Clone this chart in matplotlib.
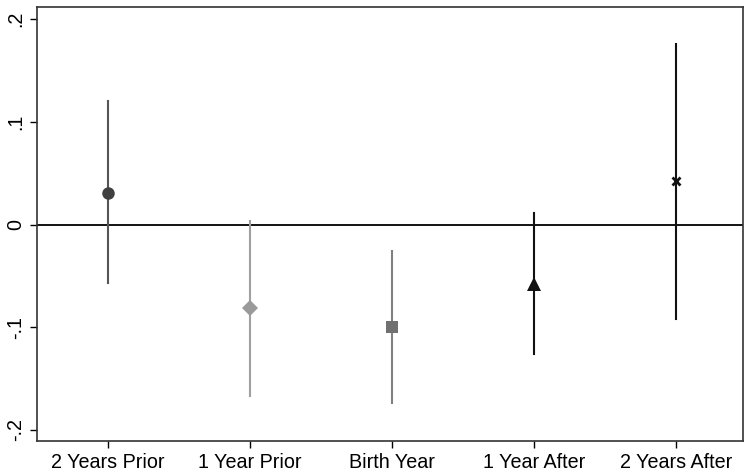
import matplotlib
matplotlib.use("Agg")
import matplotlib.pyplot as plt

plt.rcParams["font.family"] = ["Liberation Sans", "DejaVu Sans"]

labels = ["2 Years Prior", "1 Year Prior", "Birth Year", "1 Year After", "2 Years After"]
coef = [0.031, -0.081, -0.100, -0.058, 0.042]
lower = [-0.057, -0.167, -0.174, -0.126, -0.092]
upper = [0.120, 0.003, -0.026, 0.011, 0.176]

markers = ["o", "D", "s", "^", "x"]
colors = ["#404040", "#9a9a9a", "#707070", "#111111", "#111111"]
line_colors = ["#555555", "#a0a0a0", "#808080", "#111111", "#111111"]
sizes = [9, 8, 8, 10, 6]

fig = plt.figure(figsize=(7.5, 4.76), dpi=100)
ax = fig.add_axes([37 / 750, 35 / 476, 706 / 750, 434 / 476])

ax.axhline(0, color="black", lw=1.3, zorder=1)
for i in range(len(labels)):
    x = i + 1
    ax.plot([x, x], [lower[i], upper[i]], color=line_colors[i], lw=1.5, zorder=2)
    ax.plot(x, coef[i], marker=markers[i], color=colors[i], markersize=sizes[i],
            markeredgewidth=2 if markers[i] == "x" else 0, linestyle="none", zorder=3)

ax.set_xlim(0.5, 5.47)
ax.set_ylim(-0.211, 0.212)
ax.set_xticks(range(1, 6))
ax.set_xticklabels(labels, fontsize=14.2)
ax.set_yticks([-0.2, -0.1, 0, 0.1, 0.2])
ax.set_yticklabels(["-.2", "-.1", "0", ".1", ".2"], fontsize=14.2, rotation=90, va="center")
ax.tick_params(direction="out", length=5, width=1, colors="black")
for s in ax.spines.values():
    s.set_linewidth(1.2)
    s.set_color("#333333")

fig.savefig("out.png", dpi=100)
